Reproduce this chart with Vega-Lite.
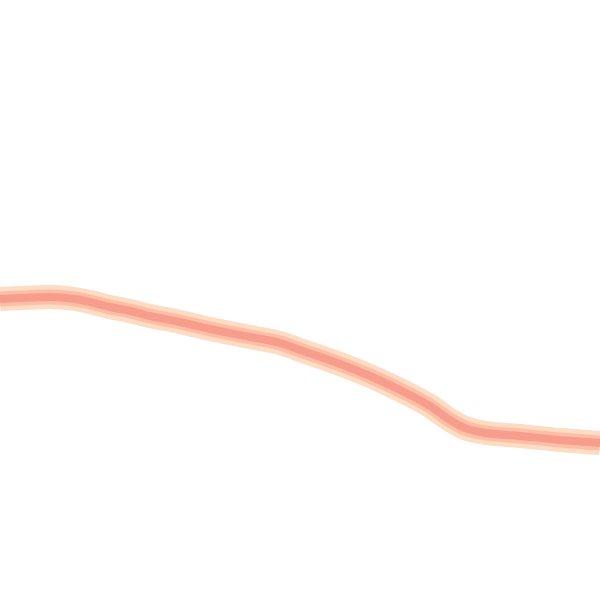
{
  "$schema": "https://vega.github.io/schema/vega-lite/v6.json",
  "autosize": {"type": "fit", "contains": "padding"},
  "width": 600,
  "height": 600,
  "padding": 0,
  "background": "white",
  "config": {"view": {"stroke": null}},
  "data": {"values": [
    {"x": 0, "y": 299}, {"x": 20, "y": 298}, {"x": 50, "y": 297}, {"x": 75, "y": 299},
    {"x": 90, "y": 302}, {"x": 110, "y": 307}, {"x": 130, "y": 311}, {"x": 150, "y": 316},
    {"x": 180, "y": 322}, {"x": 210, "y": 329}, {"x": 250, "y": 337}, {"x": 280, "y": 343},
    {"x": 300, "y": 350}, {"x": 340, "y": 364}, {"x": 370, "y": 376}, {"x": 400, "y": 390},
    {"x": 430, "y": 406}, {"x": 450, "y": 420}, {"x": 465, "y": 428}, {"x": 480, "y": 432},
    {"x": 520, "y": 436}, {"x": 560, "y": 440}, {"x": 600, "y": 443}
  ]},
  "encoding": {
    "x": {"field": "x", "type": "quantitative", "scale": {"domain": [0, 600], "nice": false, "zero": false}, "axis": null},
    "y": {"field": "y", "type": "quantitative", "scale": {"domain": [0, 600], "reverse": true, "nice": false, "zero": false}, "axis": null}
  },
  "layer": [
    {"mark": {"type": "line", "color": "#fddcc4", "strokeWidth": 24, "interpolate": "monotone", "strokeCap": "butt", "clip": true}},
    {"mark": {"type": "line", "color": "#fcbfa6", "strokeWidth": 15, "interpolate": "monotone", "strokeCap": "butt", "clip": true}},
    {"mark": {"type": "line", "color": "#f79d8e", "strokeWidth": 8, "interpolate": "monotone", "strokeCap": "butt", "clip": true}}
  ]
}
